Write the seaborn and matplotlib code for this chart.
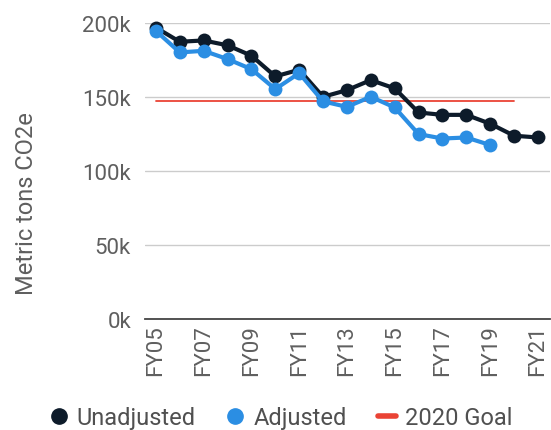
import matplotlib
matplotlib.use("Agg")
import matplotlib.pyplot as plt
from matplotlib.lines import Line2D
import seaborn as sns
import pandas as pd

years = ["FY05", "FY06", "FY07", "FY08", "FY09", "FY10", "FY11", "FY12", "FY13",
         "FY14", "FY15", "FY16", "FY17", "FY18", "FY19", "FY20", "FY21"]
unadjusted = [197000, 187400, 188300, 185000, 178000, 164000, 168500, 150200, 154700,
              161500, 155900, 139600, 138000, 138000, 132000, 123900, 122700]
adjusted = [194800, 180200, 181300, 175700, 168900, 155400, 166200, 147100, 143400,
            150200, 143000, 125000, 122000, 122700, 117600]
goal_value = 147300
goal_years = years[:16]

sns.set_theme(style="white")
plt.rcParams["font.family"] = ["Roboto", "DejaVu Sans"]

c_unadj = "#0d1b2a"
c_adj = "#2b8ee3"
c_goal = "#ea4335"
text_c = "#5f5f5f"
fs = 16

df = pd.concat([
    pd.DataFrame({"year": years, "value": unadjusted, "series": "Unadjusted"}),
    pd.DataFrame({"year": years[:len(adjusted)], "value": adjusted, "series": "Adjusted"}),
])
df["x"] = df["year"].map({y: i for i, y in enumerate(years)})
goal_df = pd.DataFrame({"x": [years.index(y) for y in goal_years],
                        "value": [goal_value] * len(goal_years)})

fig = plt.figure(figsize=(5.51, 4.31), dpi=100)
ax = fig.add_axes([0.263, 0.2575, 0.735, 0.6865])

sns.lineplot(data=goal_df, x="x", y="value", color=c_goal, linewidth=1.3, ax=ax, zorder=2)
sns.lineplot(data=df, x="x", y="value", hue="series",
             palette={"Unadjusted": c_unadj, "Adjusted": c_adj},
             hue_order=["Unadjusted", "Adjusted"],
             marker="o", markersize=10, markeredgewidth=0, linewidth=3,
             ax=ax, legend=False, zorder=3)
for ln in ax.lines:
    ln.set_clip_on(False)

ax.set_xlim(-0.46, 16.5)
ax.set_ylim(0, 200000)
ax.set_yticks([0, 50000, 100000, 150000, 200000])
ax.set_yticklabels(["0k", "50k", "100k", "150k", "200k"], fontsize=fs, color=text_c)
ax.set_xticks(range(0, len(years), 2))
ax.set_xticklabels(years[::2], rotation=90, fontsize=fs, color=text_c)
ax.tick_params(axis="y", length=0, pad=10)
ax.tick_params(axis="x", length=0, pad=4)
ax.set_xlabel("")
ax.set_ylabel("Metric tons CO2e", fontsize=17, color=text_c)
ax.yaxis.set_label_coords(-0.265, 0.393)

ax.grid(axis="y", color="#cccccc", linewidth=1)
ax.grid(axis="x", visible=False)
for s in ["top", "right", "left"]:
    ax.spines[s].set_visible(False)
ax.spines["bottom"].set_color("#444444")
ax.spines["bottom"].set_linewidth(1.3)

handles = [
    Line2D([], [], marker="o", linestyle="none", color=c_unadj, markersize=11),
    Line2D([], [], marker="o", linestyle="none", color=c_adj, markersize=11),
    Line2D([], [], color=c_goal, linewidth=4),
]
fig.legend(handles, ["Unadjusted", "Adjusted", "2020 Goal"], loc="center",
           bbox_to_anchor=(0.51, 0.028), ncol=3, frameon=False, fontsize=17,
           handlelength=0.75, handletextpad=0.4, columnspacing=1.3,
           labelcolor="#505050")

fig.savefig("out.png", dpi=100)
